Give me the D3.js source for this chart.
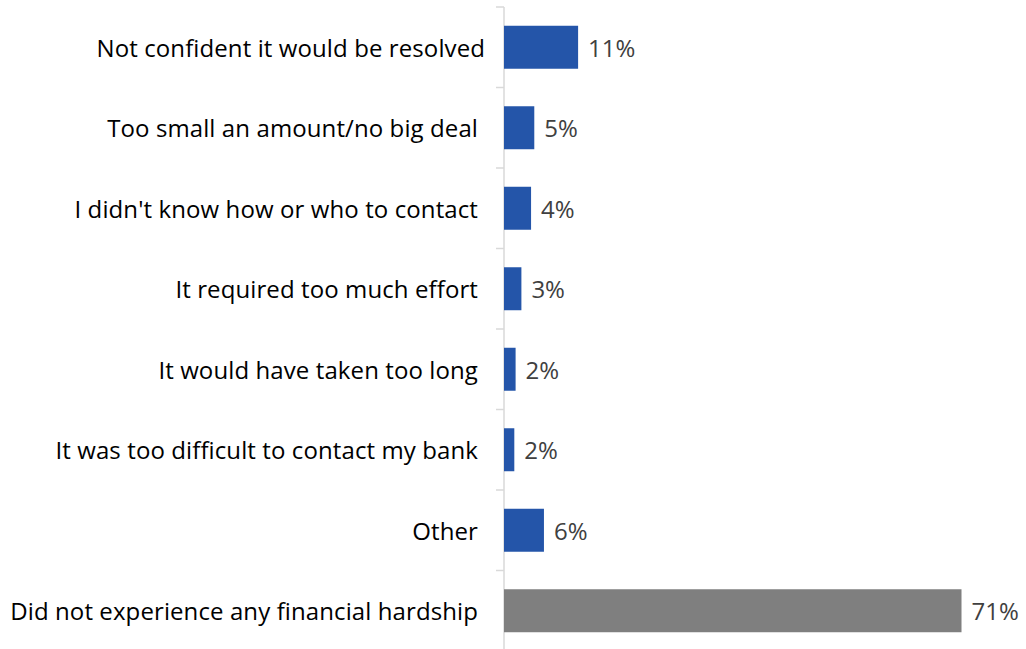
<!DOCTYPE html>
<html>
<head>
<meta charset="utf-8">
<script src="https://cdn.jsdelivr.net/npm/d3@7"></script>
<style>
  html, body { margin: 0; padding: 0; background: #ffffff; }
  svg { display: block; }
  text { font-family: "Open Sans", Lato, sans-serif; }
</style>
</head>
<body>
<svg id="chart" width="1026" height="649"></svg>
<script>
const categories = [
  "Not confident it would be resolved",
  "Too small an amount/no big deal",
  "I didn't know how or who to contact",
  "It required too much effort",
  "It would have taken too long",
  "It was too difficult to contact my bank",
  "Other",
  "Did not experience any financial hardship"
];
const values = [11.5, 4.7, 4.2, 2.7, 1.8, 1.6, 6.2, 71];
const valueLabels = ["11%", "5%", "4%", "3%", "2%", "2%", "6%", "71%"];
const barColors = ["#2455a9", "#2455a9", "#2455a9", "#2455a9", "#2455a9", "#2455a9", "#2455a9", "#7f7f7f"];

const svg = d3.select("#chart");
const axisX = 504;
const plotTop = 7, plotBottom = 651;

const x = d3.scaleLinear().domain([0, 71]).range([axisX, 961.5]);
const yOuter = d3.scaleBand().domain(categories).range([plotTop, plotBottom]).padding(0);
const y = d3.scaleBand().domain(categories).range([plotTop, plotBottom])
  .paddingInner(0.466).paddingOuter(0.233);

// axis line
svg.append("line")
  .attr("x1", axisX).attr("x2", axisX)
  .attr("y1", plotTop).attr("y2", plotBottom)
  .attr("stroke", "#d9d9d9").attr("stroke-width", 1.5);

// ticks at category boundaries
const boundaries = categories.map(c => yOuter(c)).concat([plotBottom]);
svg.selectAll("line.tick").data(boundaries).enter().append("line")
  .attr("class", "tick")
  .attr("x1", axisX - 8).attr("x2", axisX)
  .attr("y1", d => d).attr("y2", d => d)
  .attr("stroke", "#d9d9d9").attr("stroke-width", 1.5);

// bars
svg.selectAll("rect.bar").data(values).enter().append("rect")
  .attr("class", "bar")
  .attr("x", x(0))
  .attr("y", (d, i) => y(categories[i]))
  .attr("width", d => x(d) - x(0))
  .attr("height", y.bandwidth())
  .attr("fill", (d, i) => barColors[i]);

// value labels
svg.selectAll("text.val").data(values).enter().append("text")
  .attr("class", "val")
  .attr("x", d => x(d) + 10)
  .attr("y", (d, i) => y(categories[i]) + y.bandwidth() / 2)
  .attr("dy", "0.4em")
  .attr("font-size", 24)
  .attr("fill", "#404040")
  .text((d, i) => valueLabels[i]);

// category labels
svg.selectAll("text.cat").data(categories).enter().append("text")
  .attr("class", "cat")
  .attr("x", (d, i) => i === 0 ? 485 : 478)
  .attr("y", d => y(d) + y.bandwidth() / 2)
  .attr("dy", "0.4em")
  .attr("text-anchor", "end")
  .attr("font-size", 24)
  .attr("letter-spacing", 0.1)
  .attr("fill", "#000000")
  .text(d => d);
</script>
</body>
</html>
